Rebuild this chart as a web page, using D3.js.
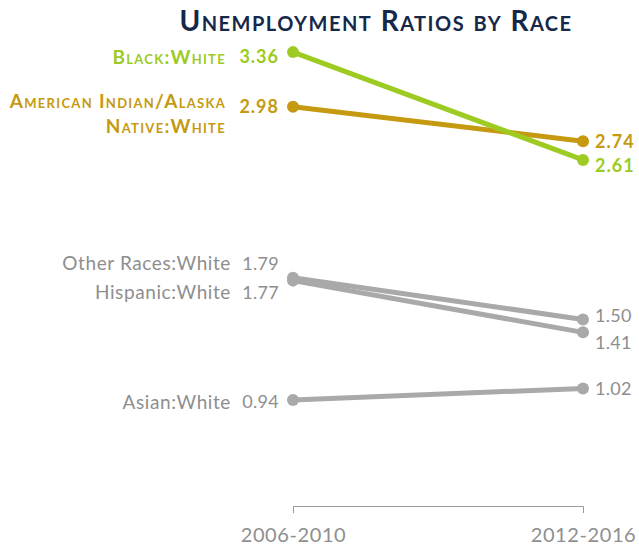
<!DOCTYPE html>
<html>
<head>
<meta charset="utf-8">
<script src="https://cdn.jsdelivr.net/npm/d3@7"></script>
<style>
  body { margin: 0; background: #fff; }
  svg { font-family: Lato, "Open Sans", sans-serif; }
</style>
</head>
<body>
<svg id="chart"></svg>
<script>
"use strict";

var W = 639,
    H = 552,
    periods = ["2006-2010", "2012-2016"],
    names = ["Asian:White", "Hispanic:White", "Other Races:White", "American Indian/Alaska Native:White", "Black:White"],
    firstValues = [0.94, 1.77, 1.79, 2.98, 3.36],
    lastValues = [1.02, 1.41, 1.50, 2.74, 2.61],
    highlight = [false, false, false, true, true],
    colors = ["#a9a9a9", "#a9a9a9", "#a9a9a9", "#c59a10", "#9dcb22"],
    textColors = ["#8e8e8e", "#8e8e8e", "#8e8e8e", "#c59a10", "#9dcb22"],
    // small vertical nudges for labels that would collide
    leftNudge = [2, 12, -14, 0, 5],
    rightNudge = [0, 10, -4, 0, 6];

var svg = d3.select("#chart")
    .attr("width", W)
    .attr("height", H);

var x = d3.scalePoint().domain(periods).range([293, 583]);
var y = d3.scaleLinear().domain([0, 3.5]).range([535, 32]);

// title
svg.append("text")
    .attr("x", 376)
    .attr("y", 31)
    .attr("text-anchor", "middle")
    .attr("fill", "#16284a")
    .attr("font-size", 28)
    .attr("font-weight", 700)
    .attr("letter-spacing", 1.5)
    .style("font-variant", "small-caps")
    .text("Unemployment Ratios by Race");

// axis
var axis = svg.append("g")
    .attr("transform", "translate(0,506)")
    .call(d3.axisBottom(x).tickSize(0).tickSizeOuter(7).tickPadding(22));
axis.select(".domain").attr("stroke", "#9a9a9a").attr("stroke-width", 1);
axis.selectAll("text")
    .attr("fill", "#8e8e8e")
    .attr("font-size", 20)
    .attr("letter-spacing", 0.6)
    .attr("font-family", "Lato, sans-serif");

var rows = names.map(function (n, i) {
    return { name: n, a: firstValues[i], b: lastValues[i], hi: highlight[i],
             color: colors[i], tcolor: textColors[i], ln: leftNudge[i], rn: rightNudge[i] };
});

var g = svg.selectAll(".series")
    .data(rows)
    .enter()
    .append("g")
    .attr("class", "series");

g.append("line")
    .attr("x1", x(periods[0]))
    .attr("x2", x(periods[1]))
    .attr("y1", function (d) { return y(d.a); })
    .attr("y2", function (d) { return y(d.b); })
    .attr("stroke", function (d) { return d.color; })
    .attr("stroke-width", 5)
    .attr("stroke-linecap", "round");

g.append("circle")
    .attr("cx", x(periods[0]))
    .attr("cy", function (d) { return y(d.a); })
    .attr("r", 6)
    .attr("fill", function (d) { return d.color; });

g.append("circle")
    .attr("cx", x(periods[1]))
    .attr("cy", function (d) { return y(d.b); })
    .attr("r", 6)
    .attr("fill", function (d) { return d.color; });

// left values
g.append("text")
    .attr("x", x(periods[0]) - 14)
    .attr("y", function (d) { return y(d.a) + d.ln; })
    .attr("dy", "0.35em")
    .attr("text-anchor", "end")
    .attr("fill", function (d) { return d.tcolor; })
    .attr("font-size", 18)
    .attr("letter-spacing", function (d) { return d.hi ? 1 : 0.3; })
    .attr("font-weight", function (d) { return d.hi ? 700 : 400; })
    .text(function (d) { return d.a.toFixed(2); });

// left names
g.each(function (d) {
    var nx = d.hi ? 226 : 231;
    var t = d3.select(this).append("text")
        .attr("x", nx)
        .attr("text-anchor", "end")
        .attr("fill", d.tcolor)
        .attr("font-size", 19)
        .attr("letter-spacing", d.hi ? 1.3 : 0.6)
        .attr("font-weight", d.hi ? 700 : 400)
        .style("font-variant", d.hi ? "small-caps" : "normal");
    if (d.name.indexOf("Alaska") > 0) {
        t.append("tspan").attr("x", nx).attr("y", y(d.a) - 5).attr("dy", "0.35em").text("American Indian/Alaska");
        t.append("tspan").attr("x", nx).attr("y", y(d.a) + 20).attr("dy", "0.35em").text("Native:White");
    } else {
        t.attr("y", y(d.a) + d.ln).attr("dy", "0.35em").text(d.name);
    }
});

// right values
g.append("text")
    .attr("x", x(periods[1]) + 12)
    .attr("y", function (d) { return y(d.b) + d.rn; })
    .attr("dy", "0.35em")
    .attr("fill", function (d) { return d.tcolor; })
    .attr("font-size", 18)
    .attr("letter-spacing", function (d) { return d.hi ? 1 : 0.3; })
    .attr("font-weight", function (d) { return d.hi ? 700 : 400; })
    .text(function (d) { return d.b.toFixed(2); });
</script>
</body>
</html>
